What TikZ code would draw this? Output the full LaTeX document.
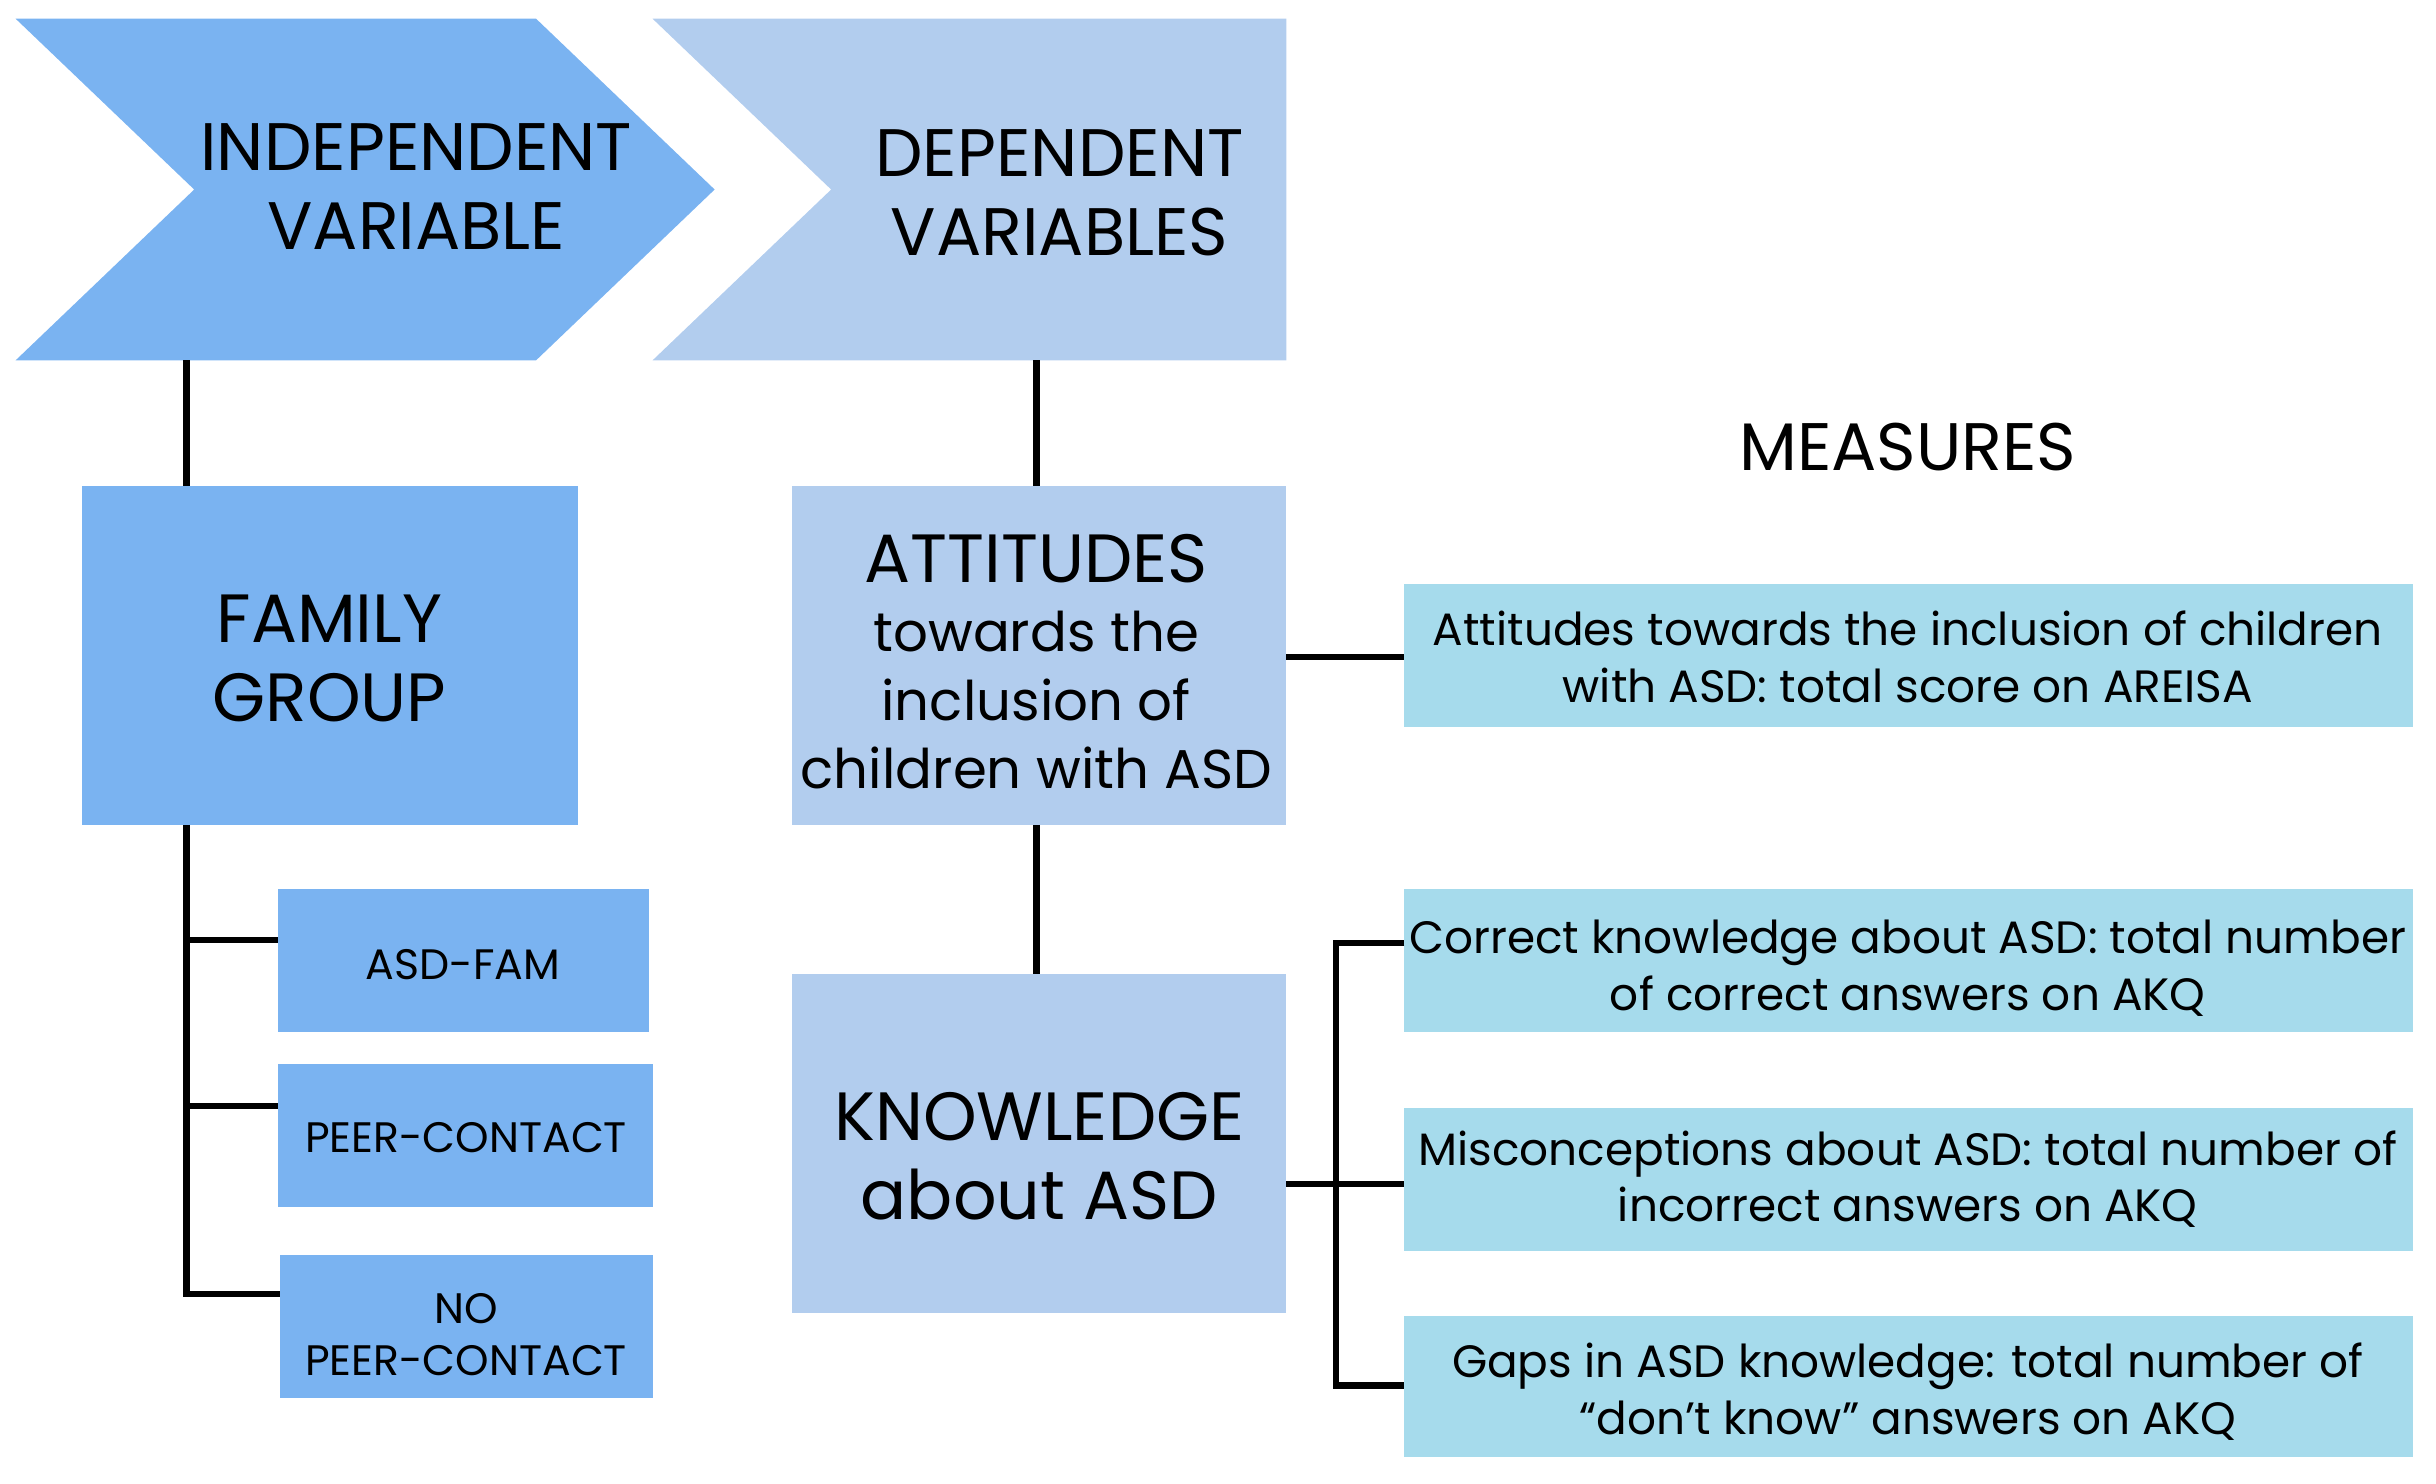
\documentclass[tikz,border=0pt]{standalone}
\usepackage{fontspec}
\setmainfont{Poppins}
\begin{document}
\begin{tikzpicture}[x=0.01cm,y=-0.01cm,
  dark/.style={fill=c1,draw=none},
  light/.style={fill=c2,draw=none},
  meas/.style={fill=c3,draw=none},
  ln/.style={line width=1.2pt,black},
  txt/.style={align=center,inner sep=0pt}]
\definecolor{c1}{HTML}{7AB3F1}
\definecolor{c2}{HTML}{B2CDEE}
\definecolor{c3}{HTML}{A6DBEC}
\useasboundingbox (0,0) rectangle (1568,955);
\fill[c1] (10,12) -- (345,12) -- (460,122) -- (345,232) -- (10,232) -- (125,122) -- cycle;
\fill[c2] (420,12) -- (828,12) -- (828,232) -- (420,232) -- (535,122) -- cycle;
\node[txt,font=\fontsize{12.3}{14.5}\selectfont] (iv) at (268,120) {INDEPENDENT\\VARIABLE};
\node[txt,font=\fontsize{12.3}{14.5}\selectfont] (dv) at (682,124) {DEPENDENT\\VARIABLES};
\coordinate (ivb) at (120,232); \coordinate (dvb) at (667,232);
\node[txt,font=\fontsize{12.3}{14.5}\selectfont] (ms) at (1228,288) {MEASURES};
\path[dark] (53,313) rectangle (372,531);
\node[txt,font=\fontsize{12.5}{14.5}\selectfont] (fg) at (212,424) {FAMILY\\GROUP};
\coordinate (fgt) at (120,313); \coordinate (fgb) at (120,531);
\path[dark] (179,572) rectangle (418,664);
\node[txt,font=\fontsize{7.8}{9.5}\selectfont] (a1) at (298,621) {ASD-FAM};
\path[dark] (179,685) rectangle (420,777);
\node[txt,font=\fontsize{7.8}{9.5}\selectfont] (a2) at (300,732) {PEER-CONTACT};
\path[dark] (180,808) rectangle (420,900);
\node[txt,font=\fontsize{7.8}{9.5}\selectfont] (a3) at (300,859) {NO\\PEER-CONTACT};
\coordinate (b1) at (179,605); \coordinate (b2) at (179,712); \coordinate (b3) at (180,833);
\coordinate (j1) at (120,605); \coordinate (j2) at (120,712); \coordinate (j3) at (120,833);
\draw[ln] (ivb) -- (fgt);
\draw[ln] (fgb) -- (j3) -- (b3);
\draw[ln] (j1) -- (b1); \draw[ln] (j2) -- (b2);
\path[light] (510,313) rectangle (828,531);
\node[txt,font=\fontsize{10}{12.6}\selectfont] (att) at (667,426) {{\fontsize{12.5}{14}\selectfont ATTITUDES}\\towards the\\inclusion of\\children with ASD};
\path[light] (510,627) rectangle (828,845);
\node[txt,font=\fontsize{12.5}{14.5}\selectfont] (kn) at (669,744) {KNOWLEDGE\\about ASD};
\coordinate (attt) at (667,313); \coordinate (attb) at (667,531); \coordinate (knt) at (667,627);
\coordinate (attr) at (828,423); \coordinate (knr) at (828,762);
\draw[ln] (dvb) -- (attt); \draw[ln] (attb) -- (knt);
\tikzset{mt/.style={txt,font=\fontsize{8.3}{10.4}\selectfont}}
\path[meas] (904,376) rectangle (1553,468);
\node[mt] (m1) at (1228,423) {Attitudes towards the inclusion of children\\with ASD: total score on AREISA};
\path[meas] (904,572) rectangle (1553,664);
\node[mt] (m2) at (1228,623) {Correct knowledge about ASD: total number\\of correct answers on AKQ};
\path[meas] (904,713) rectangle (1553,805);
\node[mt] (m3) at (1228,759) {Misconceptions about ASD: total number of\\incorrect answers on AKQ};
\path[meas] (904,847) rectangle (1553,938);
\node[mt] (m4) at (1228,896) {Gaps in ASD knowledge: total number of\\“don’t know” answers on AKQ};
\coordinate (m1l) at (904,423); \coordinate (m2l) at (904,607); \coordinate (m3l) at (904,762); \coordinate (m4l) at (904,892);
\coordinate (k1) at (860,607); \coordinate (k2) at (860,892);
\draw[ln] (attr) -- (m1l);
\draw[ln] (knr) -- (m3l);
\draw[ln] (m2l) -- (k1) -- (k2) -- (m4l);
\end{tikzpicture}
\end{document}
